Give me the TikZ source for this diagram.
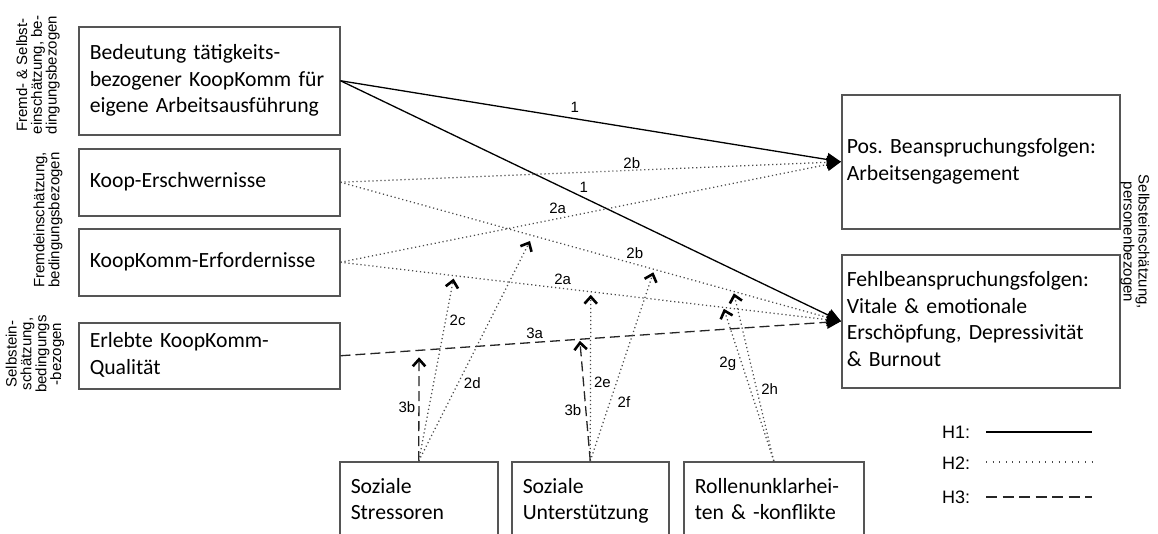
\documentclass[tikz,border=0pt]{standalone}
\usepackage{fontspec}
\setmainfont{Carlito}
\newfontfamily\arialfont{Liberation Sans}
\usetikzlibrary{arrows.meta,calc}
\definecolor{boxgray}{HTML}{555555}
\definecolor{dotgray}{HTML}{4A4A4A}

\begin{document}
\begin{tikzpicture}[x=1pt,y=-1pt,
  box/.style={draw=boxgray, line width=1.5pt, rectangle, anchor=north west,
    inner xsep=11pt, inner ysep=0pt, align=left,
    font=\fontsize{21.7}{26.5}\selectfont\frenchspacing,
    execute at begin node=\strut, execute at end node=\strut},
  rbox/.style={box, inner xsep=5pt},
  side/.style={font=\arialfont\fontsize{15}{14.8}\selectfont, align=center, inner sep=0pt},
  lbl/.style={font=\arialfont\fontsize{15}{15}\selectfont, inner sep=0pt},
  leg/.style={font=\arialfont\fontsize{18}{18}\selectfont, inner sep=0pt},
  h1/.style={line width=1.3pt, draw=black},
  h2/.style={line width=1.25pt, draw=dotgray, dash pattern=on 1.2pt off 2.8pt},
  h3/.style={line width=1.3pt, draw=black!85, dash pattern=on 10pt off 5pt},
  eff/.style={-{Triangle[length=14pt,width=13pt,color=black,fill=black]}},
  mod/.style={-{Straight Barb[length=7pt,width=12.5pt,line width=2.6pt,color=black]}, shorten >=3pt}
]
\useasboundingbox (0,0) rectangle (1158,533);
\clip (0,0) rectangle (1158,533);

% predictor boxes (left)
\node[box, text width=239pt, minimum height=108pt] (b1) at (78,26)
  {Bedeutung tätigkeits-\\bezogener KoopKomm für\\eigene Arbeitsausführung};
\node[box, text width=239pt, minimum height=67pt] (b2) at (78,148) {Koop-Erschwernisse};
\node[box, text width=239pt, minimum height=67pt] (b3) at (78,228) {KoopKomm-Erfordernisse};
\node[box, text width=239pt, minimum height=66pt] (b4) at (78,322) {Erlebte KoopKomm-\\Qualität};

% outcome boxes (right)
\node[rbox, text width=268pt, minimum height=134pt] (b5) at (841,94)
  {Pos. Beanspruchungsfolgen:\\Arbeitsengagement};
\node[rbox, text width=268pt, minimum height=133pt] (b6) at (841,254)
  {Fehlbeanspruchungsfolgen:\\Vitale \& emotionale\\Erschöpfung, Depressivität\\\& Burnout};

% moderator boxes (bottom)
\node[box, text width=136pt, minimum height=79pt] (sst) at (339,461) {Soziale\\Stressoren};
\node[box, text width=135pt, minimum height=79pt] (sun) at (511,461) {Soziale\\Unterstützung};
\node[box, text width=158pt, minimum height=79pt] (rol) at (683,461) {Rollenunklarhei-\\ten \& -konflikte};

% side captions
\node[side, rotate=90] (sA) at (38,75) {Fremd- \& Selbst-\\einschätzung, be-\\dingungsbezogen};
\node[side, rotate=90] (sB) at (48,220) {Fremdeinschätzung,\\bedingungsbezogen};
\node[side, rotate=90] (sC) at (35,354) {Selbstein-\\schätzung,\\bedingungs\\-bezogen};
\node[side, rotate=-90] (sD) at (1135,242) {Selbsteinschätzung,\\personenbezogen};

% main effects
\draw[h1, eff] (b1.east) -- node[lbl, pos=0.468, yshift=11pt] (l1a) {1} (b5.west);
\draw[h1, eff] (b1.east) -- node[lbl, pos=0.486, yshift=10pt] (l1b) {1} (b6.west);
\draw[h2, eff] (b2.east) -- node[lbl, pos=0.582, yshift=7.5pt] (l2ba) {2b} (b5.west);
\draw[h2, eff] (b2.east) -- node[lbl, pos=0.588, yshift=10.5pt] (l2bb) {2b} (b6.west);
\draw[h2, eff] (b3.east) -- node[lbl, pos=0.434, yshift=10.5pt] (l2aa) {2a} (b5.west);
\draw[h2, eff] (b3.east) -- node[lbl, pos=0.444, yshift=9pt] (l2ab) {2a} (b6.west);
\draw[h3, eff] (b4.east) -- node[lbl, pos=0.388, yshift=9pt] (l3a) {3a} (b6.west);

% points where moderators act on the effects
\coordinate (t3b1) at ($(b4.east)!0.157!(b6.west)$);
\coordinate (t2c)  at ($(b3.east)!0.227!(b6.west)$);
\coordinate (t2d)  at ($(b2.east)!0.384!(b6.west)$);
\coordinate (t3b2) at ($(b4.east)!0.478!(b6.west)$);
\coordinate (t2e)  at ($(b3.east)!0.500!(b6.west)$);
\coordinate (t2f)  at ($(b2.east)!0.627!(b6.west)$);
\coordinate (t2g)  at ($(b3.east)!0.765!(b6.west)$);
\coordinate (t2h)  at ($(b2.east)!0.785!(b6.west)$);

% moderation arrows
\draw[h3, mod, shorten >=7pt] (sst.north) -- node[lbl, pos=0.49, xshift=-12pt] (l3b1) {3b} (t3b1);
\draw[h2, mod] (sst.north) -- node[lbl, pos=0.76, xshift=12pt] (l2c) {2c} (t2c);
\draw[h2, mod, shorten >=6pt] (sst.north) -- node[lbl, pos=0.347, xshift=14pt] (l2d) {2d} (t2d);
\draw[h3, mod, shorten >=1.5pt] (sun.north) -- node[lbl, pos=0.42, xshift=-13pt] (l3b2) {3b} (t3b2);
\draw[h2, mod] (sun.north) -- node[lbl, pos=0.464, xshift=12pt] (l2e) {2e} (t2e);
\draw[h2, mod] (sun.north) -- node[lbl, pos=0.307, xshift=14pt] (l2f) {2f} (t2f);
\draw[h2, mod, shorten >=1.5pt] (rol.north) -- node[lbl, pos=0.634, xshift=-14pt] (l2g) {2g} (t2g);
\draw[h2, mod, shorten >=2pt] (rol.north) -- node[lbl, pos=0.423, xshift=13pt] (l2h) {2h} (t2h);

% legend
\node[leg, anchor=west] (k1) at (942,432) {H1:};
\node[leg, anchor=west] (k2) at (942,463) {H2:};
\node[leg, anchor=west] (k3) at (942,497) {H3:};
\coordinate (k1a) at (986,432); \coordinate (k1b) at (1092,432);
\coordinate (k2a) at (986,462); \coordinate (k2b) at (1092,462);
\coordinate (k3a) at (986,497); \coordinate (k3b) at (1092,497);
\draw[h1] (k1a) -- (k1b);
\draw[h2, dash pattern=on 1pt off 5.6pt] (k2a) -- (k2b);
\draw[h3, dash pattern=on 11pt off 5.5pt] (k3a) -- (k3b);
\end{tikzpicture}
\end{document}
